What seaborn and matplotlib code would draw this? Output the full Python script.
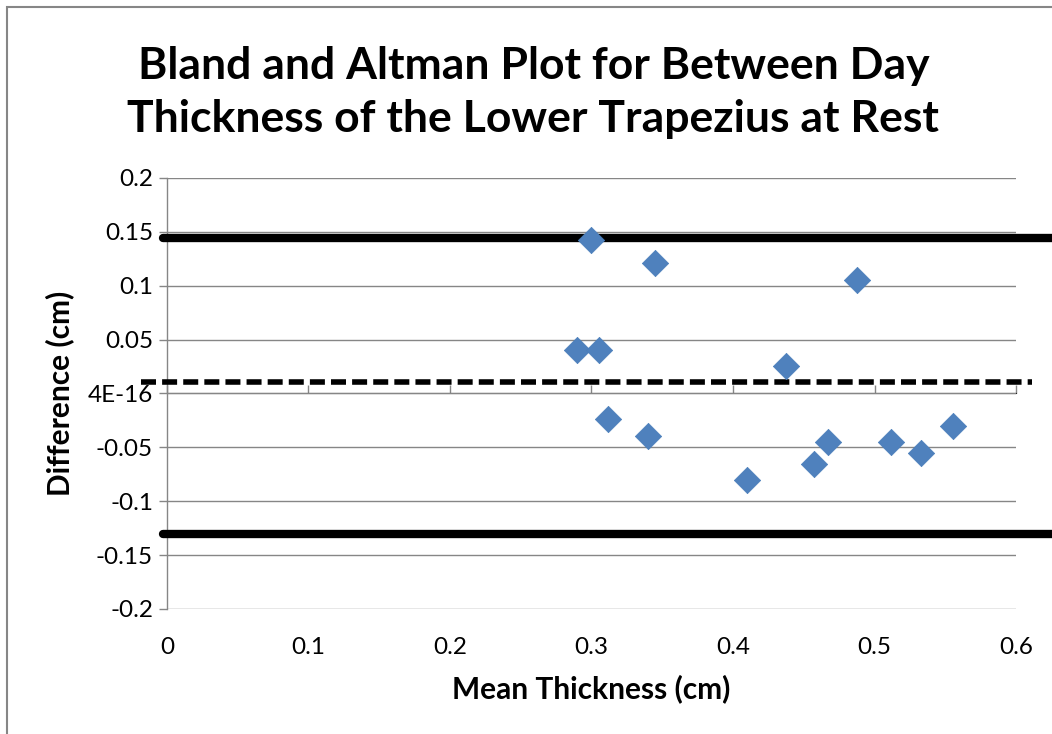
import matplotlib
matplotlib.use('Agg')
import matplotlib.pyplot as plt
import seaborn as sns
import pandas as pd
from matplotlib.patches import Rectangle

# datos
media_grosor = [0.290, 0.305, 0.300, 0.345, 0.4876, 0.4375, 0.312, 0.340,
                0.410, 0.457, 0.467, 0.512, 0.533, 0.5555]
diferencia = [0.0404, 0.0404, 0.142, 0.121, 0.105, 0.0255, -0.0237, -0.039,
              -0.080, -0.065, -0.045, -0.045, -0.055, -0.030]
media_dif = 0.0109
limite_sup = 0.1447
limite_inf = -0.1303

yticks = [-0.2, -0.15, -0.1, -0.05, 0, 0.05, 0.1, 0.15, 0.2]
yticklabels = ['-0.2', '-0.15', '-0.1', '-0.05', '4E-16', '0.05', '0.1', '0.15', '0.2']
xticks = [0, 0.1, 0.2, 0.3, 0.4, 0.5, 0.6]
xticklabels = ['0', '0.1', '0.2', '0.3', '0.4', '0.5', '0.6']

df = pd.DataFrame({'Media': media_grosor, 'Diferencia': diferencia})

sns.set_style('white')
plt.rcParams['font.family'] = ['Lato', 'DejaVu Sans']
plt.rcParams['text.color'] = 'black'
plt.rcParams['axes.labelcolor'] = 'black'
plt.rcParams['xtick.labelcolor'] = 'black'
plt.rcParams['ytick.labelcolor'] = 'black'

gris = '#868686'

fig = plt.figure(figsize=(10.52, 7.34), dpi=100)
ax = fig.add_axes([0.1587, 0.1703, 0.8071, 0.5872])

# marco del grafico (como en Excel)
fig.patches.append(Rectangle((7/1052, -0.1), 1.2, 1 - 7/734 + 0.1, transform=fig.transFigure,
                             fill=False, edgecolor=gris, linewidth=1.5))

ax.set_xlim(0, 0.6)
ax.set_ylim(-0.2, 0.2)
ax.set_yticks(yticks)
ax.set_yticklabels(yticklabels)
ax.set_xticks(xticks)
ax.set_xticklabels(xticklabels)
ax.grid(axis='y', color=gris, linewidth=1.0)
ax.grid(axis='x', visible=False)
ax.set_axisbelow(True)

for lado in ['top', 'right', 'bottom']:
    ax.spines[lado].set_visible(False)
ax.spines['left'].set_color(gris)
ax.spines['left'].set_linewidth(1.0)

ax.tick_params(axis='y', direction='out', length=6, width=1.0, color=gris,
               labelsize=17.5, pad=4, left=True)
ax.tick_params(axis='x', length=0, labelsize=17.5, pad=20)

# eje x en y=0 con marcas hacia abajo
eje0 = ax.secondary_xaxis(0.5)
eje0.set_xticks(xticks)
eje0.set_xticklabels([])
eje0.spines['bottom'].set_color(gris)
eje0.spines['bottom'].set_linewidth(1.0)
eje0.tick_params(direction='out', length=6, width=1.0, color=gris)

# lineas de media y limites de acuerdo
ax.axhline(limite_sup, xmin=-0.005, xmax=1.2, color='black', linewidth=6, clip_on=False, zorder=3)
ax.axhline(limite_inf, xmin=-0.005, xmax=1.2, color='black', linewidth=6, clip_on=False, zorder=3)
ax.axhline(media_dif, xmin=-0.0306, xmax=1.0188, color='black', linewidth=4,
           linestyle=(0, (2.7, 1.1)), clip_on=False, zorder=3)

sns.scatterplot(data=df, x='Media', y='Diferencia', marker='D', s=180,
                color='#4F81BD', edgecolor='#4A7EBB', linewidth=0.5, ax=ax, zorder=4)

ax.set_xlabel('Mean Thickness (cm)', fontsize=21.5, fontweight='bold', labelpad=12)
ax.set_ylabel('Difference (cm)', fontsize=21.5, fontweight='bold', labelpad=10)
fig.text(0.507, 0.874, 'Bland and Altman Plot for Between Day\nThickness of the Lower Trapezius at Rest',
         ha='center', va='center', fontsize=32, fontweight='bold', linespacing=1.38)

plt.savefig('out.png', dpi=100)
